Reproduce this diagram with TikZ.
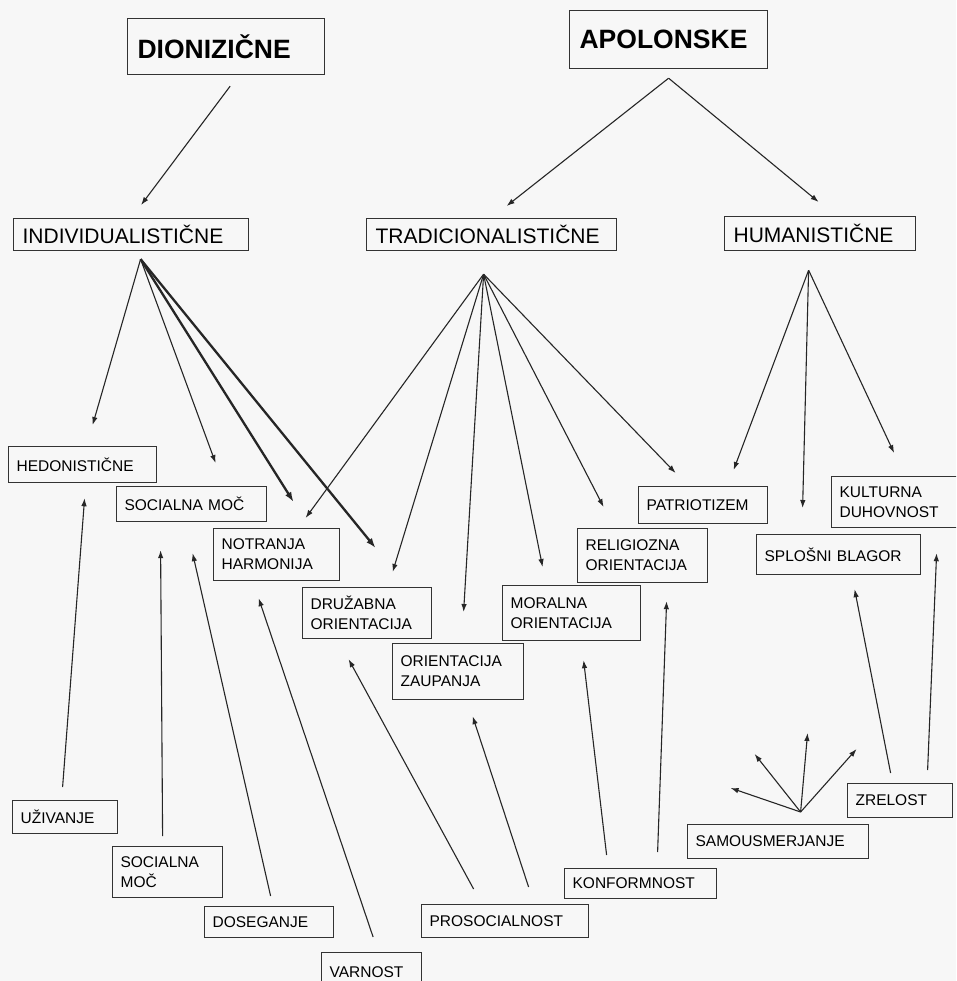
\documentclass[tikz,border=0pt]{standalone}
\usepackage{fontspec}
\setmainfont{Liberation Sans}
\usetikzlibrary{arrows.meta}

\tikzset{
  box/.style={draw=black!80, line width=1.2pt, anchor=north west, inner xsep=8pt, inner ysep=0pt, align=left, font=\fontsize{15.5}{20}\selectfont},
  mid/.style={box, inner xsep=9pt, font=\fontsize{21}{25}\selectfont},
  head/.style={box, inner xsep=10pt, font=\fontsize{26.5}{30}\selectfont\bfseries},
  wh/.style 2 args={text width=#1pt, minimum height=#2pt},
  arr/.style={black!85, line width=1.1pt, -{Latex[length=8pt,width=5.5pt]}},
  thickarr/.style={arr, line width=2.3pt, -{Latex[length=10pt,width=7pt]}},
}

\begin{document}
\begin{tikzpicture}[x=1pt,y=-1pt]
\useasboundingbox (0,0) rectangle (956,981);
\clip (0,0) rectangle (956,981);
\fill[black!3] (0,0) rectangle (956,981);
%\draw[help lines,step=50] (0,0) grid (956,981);
\begin{scope}
    \node[head, wh={177}{56}] (dio) at (127,18) {DIONIZIČNE};
    \node[head, wh={178}{58}] (apo) at (569,10) {APOLONSKE};
    \node[mid, wh={217}{32}] (ind) at (13,218) {INDIVIDUALISTIČNE};
    \node[mid, wh={232}{32}] (tra) at (366,218) {TRADICIONALISTIČNE};
    \node[mid, wh={173}{34}] (hum) at (724,216) {HUMANISTIČNE};

    \node[box, wh={132}{36}] (hed) at (8,446) {HEDONISTIČNE};
    \node[box, wh={134}{35}] (soct) at (116,486) {SOCIALNA MOČ};
    \node[box, wh={110}{52}] (notr) at (213,528) {NOTRANJA\\HARMONIJA};
    \node[box, wh={113}{51}] (druz) at (302,587) {DRUŽABNA\\ORIENTACIJA};
    \node[box, wh={115}{56}] (zaup) at (392,643) {ORIENTACIJA\\ZAUPANJA};
    \node[box, wh={122}{55}] (moral) at (502,585) {MORALNA\\ORIENTACIJA};
    \node[box, wh={114}{54}] (relig) at (577,528) {RELIGIOZNA\\ORIENTACIJA};
    \node[box, wh={113}{37}] (patr) at (638,486) {PATRIOTIZEM};
    \node[box, wh={148}{40}] (splo) at (756,534) {SPLOŠNI BLAGOR};
    \node[box, wh={114}{51}] (kult) at (831,476) {KULTURNA\\DUHOVNOST};

    \node[box, wh={89}{33}] (uziv) at (12,800) {UŽIVANJE};
    \node[box, wh={94}{51}] (socb) at (112,846) {SOCIALNA\\MOČ};
    \node[box, wh={113}{31}] (dose) at (204,906) {DOSEGANJE};
    \node[box, wh={84}{40}] (varn) at (321,952) {VARNOST};
    \node[box, wh={151}{33}] (pros) at (421,904) {PROSOCIALNOST};
    \node[box, wh={136}{30}] (konf) at (564,868) {KONFORMNOST};
    \node[box, wh={165}{34}] (samo) at (687,824) {SAMOUSMERJANJE};
    \node[box, wh={89}{34}] (zrel) at (847,783) {ZRELOST};

    % fan points
    \coordinate (apoF) at ([shift={(0,9)}]apo.south);
    \coordinate (indF) at ([shift={(9.5,8)}]ind.south);
    \coordinate (traF) at ([shift={(-8,23)}]tra.south);
    \coordinate (humF) at ([shift={(-11.5,19)}]hum.south);
    \coordinate (samF) at ([shift={(22.5,-12)}]samo.north);
    \foreach \dx/\dy [count=\i] in {-70/-24, -46/-58, 7/-79, 56/-63}
        \coordinate (s\i) at ([shift={(\dx,\dy)}]samF);

    \path [arr] ([shift={(4,11)}]dio.south) edge ([shift={(10,-13)}]ind.north);
    \path [arr] (apoF) edge ([shift={(15,-12)}]tra.north);
    \path [arr] (apoF) edge ([shift={(-1.5,-14)}]hum.north);

    \path [arr] (indF) edge ([shift={(10,-21)}]hed.north);
    \path [arr] (indF) edge ([shift={(24,-23)}]soct.north);
    \path [thickarr] (indF) edge ([shift={(17,-26)}]notr.north);
    \path [thickarr] (indF) edge ([shift={(8.5,-39)}]druz.north);

    \path [arr] (traF) edge ([shift={(29,-10)}]notr.north);
    \path [arr] (traF) edge ([shift={(25.5,-15)}]druz.north);
    \path [arr] (traF) edge ([shift={(5.5,-31)}]zaup.north);
    \path [arr] (traF) edge ([shift={(-29,-18)}]moral.north);
    \path [arr] (traF) edge ([shift={(-39,-21)}]relig.north);
    \path [arr] (traF) edge ([shift={(-27.5,-13)}]patr.north);

    \path [arr] (humF) edge ([shift={(30.5,-16)}]patr.north);
    \path [arr] (humF) edge ([shift={(-36,-26)}]splo.north);
    \path [arr] (humF) edge ([shift={(-2.5,-23)}]kult.north);

    \path [arr] ([shift={(-2.5,-13)}]uziv.north) edge ([shift={(2,15)}]hed.south);
    \path [arr] ([shift={(-5,-10)}]socb.north) edge ([shift={(-31,28)}]soct.south);
    \path [arr] ([shift={(1.5,-10)}]dose.north) edge ([shift={(1,31)}]soct.south);
    \path [arr] ([shift={(1.5,-15)}]varn.north) edge ([shift={(-18,17)}]notr.south);
    \path [arr] ([shift={(-31.5,-15)}]pros.north) edge ([shift={(-18.5,20)}]druz.south);
    \path [arr] ([shift={(23.5,-17)}]pros.north) edge ([shift={(14.5,16)}]zaup.south);
    \path [arr] ([shift={(-34,-13)}]konf.north) edge ([shift={(12,19)}]moral.south);
    \path [arr] ([shift={(17,-16)}]konf.north) edge ([shift={(24,18)}]relig.south);
    \path [arr] ([shift={(-9.5,-10)}]zrel.north) edge ([shift={(16,14)}]splo.south);
    \path [arr] ([shift={(27.5,-13)}]zrel.north) edge ([shift={(40,25)}]kult.south);

    \foreach \i in {1,...,4}
        \path [arr] (samF) edge (s\i);
\end{scope}
\end{tikzpicture}
\end{document}
